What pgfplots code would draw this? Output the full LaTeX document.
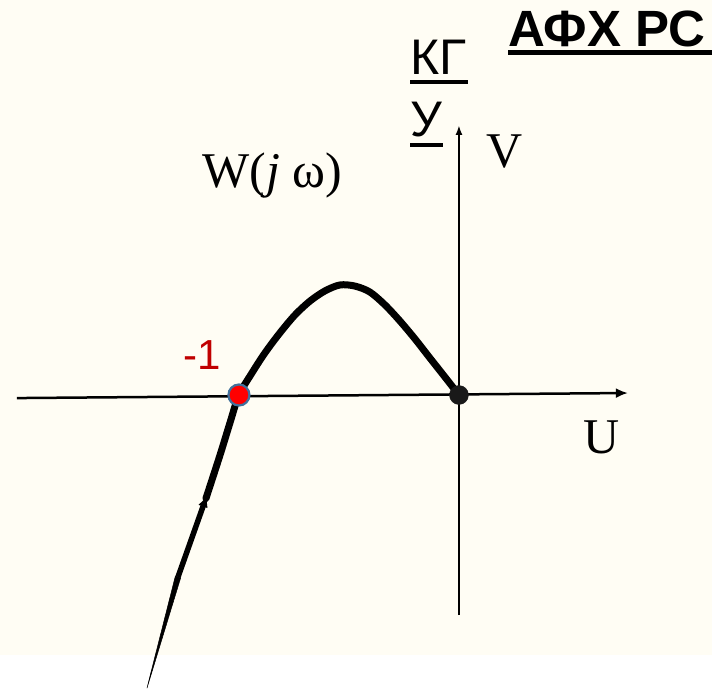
\documentclass[border=0pt]{standalone}
\usepackage{fontspec}
\setmainfont{Liberation Serif}
\newfontfamily\sansf{Liberation Sans}
\usepackage{pgfplots}
\pgfplotsset{compat=1.18}
\usetikzlibrary{arrows.meta}
\definecolor{cream}{RGB}{255,253,244}
\definecolor{dotblue}{RGB}{65,113,156}
\definecolor{darkred}{RGB}{192,0,0}
\newcommand{\ulbox}[4]{\setbox0\hbox{#1}\rlap{\raisebox{-#2}{\rule{#3}{#4}}}\box0}
\begin{document}
\begin{tikzpicture}
\begin{axis}[
  width=712bp, height=689bp, scale only axis, hide axis,
  xmin=-2.086, xmax=1.150, ymin=-1.336, ymax=1.795,
  clip=true,
]
\fill[white] (axis cs:-2.086,-1.336) rectangle (axis cs:1.150,1.795);
\fill[cream] (axis cs:-2.086,-1.182) rectangle (axis cs:1.150,1.795);
% axes
\addplot[line width=2.5bp, -{Latex[length=12bp,width=10bp]}] coordinates {(-2.009,-0.014) (0.768,0.009)};
\addplot[line width=2bp, -{Latex[length=10bp,width=7bp]}] coordinates {(0,-1.0) (0,1.227)};
% -1 point
\addplot[only marks, mark=*, mark size=10.5bp, mark options={fill=red, draw=dotblue, line width=2.2bp}] coordinates {(-1,0)};
% curve: tapered tail
\addplot[fill=black, draw=black, line width=0.5bp] coordinates {(-1.418,-1.332) (-1.265,-0.831) (-1.289,-0.823) (-1.418,-1.332)};
\addplot[line width=5.5bp, -{Latex[length=12bp,width=10bp]}] coordinates {(-1.277,-0.827) (-1.145,-0.455)};
\addplot[line width=7bp, smooth, line cap=round, line join=round] coordinates {
(-1.150,-0.470) (-1.086,-0.273) (-1.041,-0.127) (-1.0,0) (-0.941,0.100) (-0.882,0.191) (-0.814,0.282) (-0.745,0.364) (-0.677,0.427) (-0.609,0.473) (-0.541,0.500) (-0.473,0.495) (-0.405,0.468) (-0.336,0.409) (-0.268,0.336) (-0.200,0.255) (-0.132,0.168) (-0.064,0.082) (0,0)};
% origin point
\addplot[only marks, mark=*, mark size=9.5bp, mark options={fill=black!90, draw=black!90}] coordinates {(0,0)};
% texts
\node[anchor=base west, inner sep=0pt] at (axis cs:0.223,1.582) {\sansf\bfseries\fontsize{51bp}{60bp}\selectfont \ulbox{АФХ РС}{8bp}{210bp}{4.5bp}};
\node[anchor=base west, inner sep=0pt] at (axis cs:-0.223,1.455) {\sansf\fontsize{50bp}{60bp}\selectfont \ulbox{КГ}{9bp}{58bp}{4bp}};
\node[anchor=base west, inner sep=0pt] at (axis cs:-0.223,1.173) {\sansf\fontsize{50bp}{60bp}\selectfont \ulbox{У}{10bp}{33bp}{4bp}};
\node[anchor=base west, inner sep=0pt] at (axis cs:0.123,1.036) {\fontsize{50bp}{60bp}\selectfont V};
\node[anchor=base west, inner sep=0pt] at (axis cs:-1.168,0.941) {\fontsize{50bp}{60bp}\selectfont W(\textit{j} ω)};
\node[anchor=base west, inner sep=0pt] at (axis cs:0.564,-0.264) {\fontsize{50bp}{60bp}\selectfont U};
\node[anchor=base west, inner sep=0pt, text=darkred] at (axis cs:-1.255,0.118) {\sansf\fontsize{42bp}{48bp}\selectfont -1};
\end{axis}
\end{tikzpicture}
\end{document}
